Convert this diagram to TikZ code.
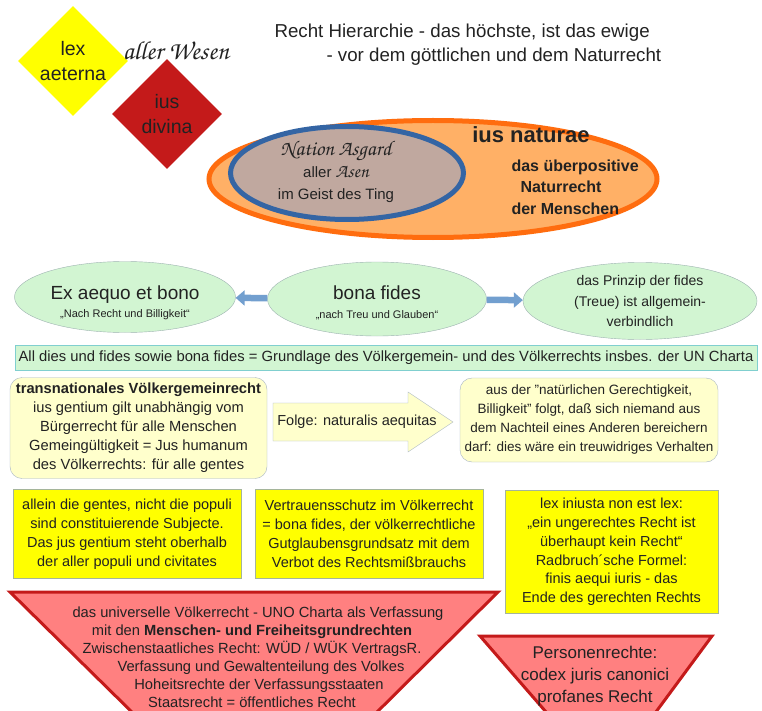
\documentclass[tikz,border=0pt]{standalone}
\usepackage[T1]{fontenc}
\usepackage{fontspec}
\setmainfont{Liberation Sans}
\usetikzlibrary{shapes.geometric,arrows.meta}
\newcommand\kanzlei{\fontencoding{T1}\fontfamily{pzc}\fontseries{mb}\fontshape{it}\selectfont}
\newcommand\fs[2]{\fontsize{#1}{#2}\selectfont}
\definecolor{gelb}{HTML}{FFFF00}
\definecolor{rubin}{HTML}{C41A1A}
\definecolor{orangefill}{HTML}{FFB066}
\definecolor{orangerand}{HTML}{FF6D0F}
\definecolor{blaurand}{HTML}{3465A4}
\definecolor{asgardfill}{HTML}{C0A89F}
\definecolor{gruenfill}{HTML}{D2F5D2}
\definecolor{gruenrand}{HTML}{9DB3B0}
\definecolor{pfeilblau}{HTML}{729FCF}
\definecolor{allrand}{HTML}{80CFCF}
\definecolor{kastenfill}{HTML}{FFFFCC}
\definecolor{kastenrand}{HTML}{A7B4C4}
\definecolor{gelbrand}{HTML}{A5B59A}
\definecolor{rotfill}{HTML}{FF8080}
\definecolor{schrift}{HTML}{222222}

\begin{document}
\begin{tikzpicture}[x=1pt,y=-1pt,every node/.style={text=schrift},
  raute/.style={diamond,minimum width=110pt,minimum height=110pt,inner sep=0pt,align=center,font=\fs{19.5}{25}},
  oval/.style={ellipse,draw=gruenrand,fill=gruenfill,inner sep=0pt,align=center},
  blockpfeil/.style={line width=6.5pt,draw=pfeilblau,-{Triangle[length=9pt,width=15pt]}},
  kasten/.style={rectangle,rounded corners=12pt,draw=kastenrand,fill=kastenfill,inner sep=0pt,align=center,font=\fs{14.7}{19}},
  gelbkasten/.style={rectangle,draw=gelbrand,fill=gelb,inner sep=0pt,align=center,font=\fs{14.5}{19}},
  rotrecht/.style={draw=rubin,fill=rotfill,line width=3pt,line join=miter}]
  \useasboundingbox (0,0) rectangle (762,711);
  \clip (0,0) rectangle (762,711);
  \fill[white] (0,0) rectangle (762,711);

  \node[raute,fill=gelb] (aeterna) at (73,61) {lex\\aeterna};
  \node[raute,fill=rubin] (divina) at (167,114) {ius\\divina};
  \node[font=\kanzlei\fs{26}{28}] (wesen) at (176,50) {aller Wesen};
  \node[align=left,font=\fs{18.7}{24},anchor=west] (titel) at (271,45)
    {Recht Hierarchie - das höchste, ist das ewige\\\hspace*{52pt}- vor dem göttlichen und dem Naturrecht};

  \node[ellipse,draw=orangerand,fill=orangefill,line width=5pt,minimum width=448pt,minimum height=117pt] (naturae) at (433,179) {};
  \node[ellipse,draw=blaurand,fill=asgardfill,line width=5pt,minimum width=233pt,minimum height=93pt] (asgard) at (347,173) {};
  \node[align=center,font=\fs{15}{22}] (asgardtext) at (336,172)
    {{\kanzlei\fs{21}{22}Nation Asgard}\\aller {\kanzlei\fs{19}{22}Asen}\\im Geist des Ting};
  \node[font=\bfseries\fs{22}{24}] (iusnat) at (531,135) {ius naturae};
  \node[align=left,anchor=west,font=\bfseries\fs{16}{21.5}] (menschen) at (508,187)
    {das überpositive\\\hspace*{9pt}Naturrecht\\der Menschen};

  \node[oval,minimum width=221pt,minimum height=71pt,font=\fs{19}{18}] (aequo) at (125,297)
    {\rule{0pt}{26pt}Ex aequo et bono\\{\fs{11}{18}„Nach Recht und Billigkeit“}};
  \node[oval,minimum width=219pt,minimum height=74pt,font=\fs{19}{19}] (bona) at (377,299)
    {\rule{0pt}{22pt}bona fides\\{\fs{11}{19}„nach Treu und Glauben“}};
  \node[oval,minimum width=234pt,minimum height=77pt,font=\fs{14}{20.5}] (prinzip) at (640,301)
    {das Prinzip der fides\\(Treue) ist allgemein-\\verbindlich};
  \draw[blockpfeil] (bona) -- (aequo);
  \draw[blockpfeil] (bona) -- (prinzip);

  \node[rectangle,draw=allrand,fill=gruenfill,minimum width=742pt,minimum height=25pt,inner sep=0pt,font=\fs{14.8}{16}] (grundlage) at (386,357.5)
    {All dies und fides sowie bona fides = Grundlage des Völkergemein- und des Völkerrechts insbes. der UN Charta};

  \node[kasten,minimum width=257pt,minimum height=101pt] (gemeinrecht) at (138.5,428)
    {\textbf{transnationales Völkergemeinrecht}\\ius gentium gilt unabhängig vom\\Bürgerrecht für alle Menschen\\Gemeingültigkeit = Jus humanum\\des Völkerrechts: für alle gentes};
  \filldraw[draw=kastenrand,fill=kastenfill] (273,403) -- (408,403) -- (408,392) -- (453,422) -- (408,452) -- (408,441) -- (273,441) -- cycle;
  \node[font=\fs{14.5}{16}] (folge) at (357,422) {Folge: naturalis aequitas};
  \node[kasten,minimum width=258pt,minimum height=84pt,font=\fs{13.5}{19}] (billigkeit) at (589,420)
    {aus der "natürlichen Gerechtigkeit,\\Billigkeit" folgt, daß sich niemand aus\\dem Nachteil eines Anderen bereichern\\darf: dies wäre ein treuwidriges Verhalten};

  \node[gelbkasten,minimum width=228pt,minimum height=89pt] (gentes) at (127,534)
    {allein die gentes, nicht die populi\\sind constituierende Subjecte.\\Das jus gentium steht oberhalb\\der aller populi und civitates};
  \node[gelbkasten,minimum width=228pt,minimum height=89pt] (vertrauen) at (369,534)
    {Vertrauensschutz im Völkerrecht\\= bona fides, der völkerrechtliche\\Gutglaubensgrundsatz mit dem\\Verbot des Rechtsmißbrauchs};
  \node[gelbkasten,minimum width=213pt,minimum height=123pt,font=\fs{14.5}{18.8}] (iniusta) at (611.5,552)
    {lex iniusta non est lex:\\„ein ungerechtes Recht ist\\überhaupt kein Recht“\\Radbruch´sche Formel:\\finis aequi iuris - das\\Ende des gerechten Rechts};

  \filldraw[rotrecht] (10,592) -- (498,592) -- (369,720) -- (140,720) -- cycle;
  \node[align=center,font=\fs{14.7}{18}] (uno) at (252,657)
    {\hspace*{12pt}das universelle Völkerrecht - UNO Charta als Verfassung\\mit den \textbf{Menschen- und Freiheitsgrundrechten}\hspace*{14pt}\\Zwischenstaatliches Recht: WÜD / WÜK VertragsR.\hspace*{18pt}\\\hspace*{18pt}Verfassung und Gewaltenteilung des Volkes\\\hspace*{14pt}Hoheitsrechte der Verfassungsstaaten\\Staatsrecht = öffentliches Recht};
  \filldraw[rotrecht] (480,636) -- (712,636) -- (650,720) -- (553,720) -- cycle;
  \node[align=center,font=\fs{17}{22}] (personen) at (595,676)
    {Personenrechte:\\codex juris canonici\\profanes Recht};
\end{tikzpicture}
\end{document}
